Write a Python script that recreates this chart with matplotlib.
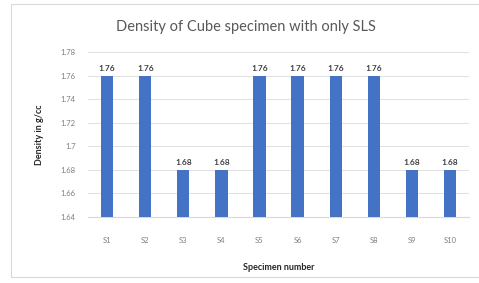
import matplotlib
matplotlib.use("Agg")
import matplotlib.pyplot as plt
from matplotlib.patches import Rectangle

specimens = ["S1", "S2", "S3", "S4", "S5", "S6", "S7", "S8", "S9", "S10"]
density = [1.76, 1.76, 1.68, 1.68, 1.76, 1.76, 1.76, 1.76, 1.68, 1.68]
yticks = [1.64, 1.66, 1.68, 1.7, 1.72, 1.74, 1.76, 1.78]
ytick_labels = ["1.64", "1.66", "1.68", "1.7", "1.72", "1.74", "1.76", "1.78"]

plt.rcParams['font.family'] = ['Lato', 'DejaVu Sans']

fig = plt.figure(figsize=(4.79, 2.83), dpi=100)
# chart border, runs off the right edge like the reference
fig.patches.append(Rectangle((11 / 479, 6 / 283), 475 / 479, 273 / 283,
                             transform=fig.transFigure, fill=False,
                             edgecolor="#d9d9d9", linewidth=0.8))
ax = fig.add_axes([0.184, 0.233, 0.795, 0.583])

x = range(len(specimens))
bars = ax.bar(x, density, width=0.32, color="#4472c4", zorder=3)
for b, v in zip(bars, density):
    ax.text(b.get_x() + b.get_width() / 2, v + 0.003, f"{v:.2f}",
            ha="center", va="bottom", fontsize=6, fontweight="bold",
            color="#404040")

ax.set_ylim(1.64, 1.78)
ax.set_xlim(-0.5, len(specimens) - 0.5)
ax.set_yticks(yticks)
ax.set_yticklabels(ytick_labels)
ax.set_xticks(list(x))
ax.set_xticklabels(specimens)
ax.tick_params(axis="both", length=0, labelsize=5.5, labelcolor="#7f7f7f")
ax.tick_params(axis="x", pad=14)
ax.tick_params(axis="y", pad=9)
ax.grid(axis="y", color="#e0e0e0", linewidth=0.7, zorder=0)
for s in ["top", "right", "left"]:
    ax.spines[s].set_visible(False)
ax.spines["bottom"].set_color("#d9d9d9")

ax.set_ylabel("Density in g/cc", fontsize=6.5, fontweight="bold", color="#262626",
              labelpad=12)
ax.set_xlabel("Specimen number", fontsize=6.5, fontweight="bold", color="#262626",
              labelpad=14)
fig.text(0.513, 0.905, "Density of Cube specimen with only SLS", ha="center",
         va="center", fontsize=10.5, color="#595959")

fig.savefig("out.png", dpi=100)
